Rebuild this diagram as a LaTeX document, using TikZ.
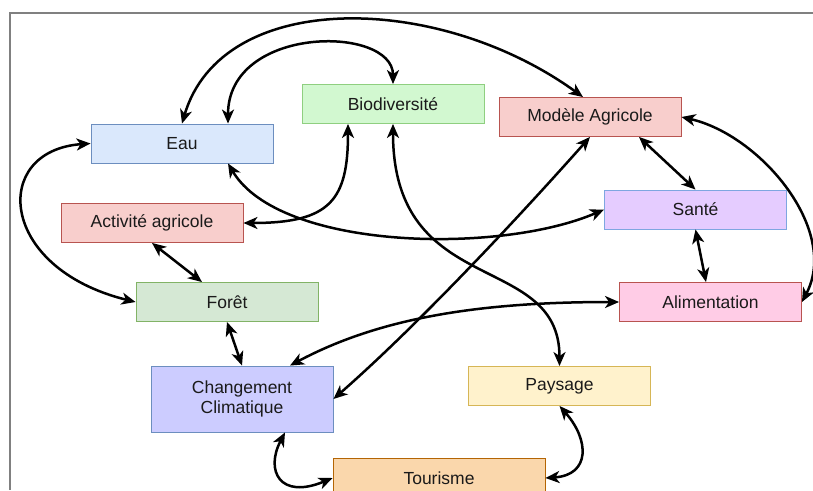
\documentclass[tikz,border=0pt]{standalone}
\usepackage{fontspec}
\setmainfont{Liberation Sans}
\usetikzlibrary{arrows.meta}

\definecolor{eauFill}{HTML}{DAE8FC}\definecolor{eauLine}{HTML}{6C8EBF}
\definecolor{bioFill}{HTML}{D2F8D0}\definecolor{bioLine}{HTML}{8FCF80}
\definecolor{redFill}{HTML}{F8CECC}\definecolor{redLine}{HTML}{B85450}
\definecolor{foretFill}{HTML}{D5E8D4}\definecolor{foretLine}{HTML}{82B366}
\definecolor{santeFill}{HTML}{E5CCFF}\definecolor{santeLine}{HTML}{7EA6E0}
\definecolor{alimFill}{HTML}{FFCCE6}
\definecolor{climFill}{HTML}{CCCCFF}
\definecolor{paysFill}{HTML}{FFF2CC}\definecolor{paysLine}{HTML}{D6B656}
\definecolor{tourFill}{HTML}{FAD7AC}\definecolor{tourLine}{HTML}{B46504}
\definecolor{txt}{HTML}{1A1A1A}

\tikzstyle{box}=[rectangle, draw, line width=0.9pt, minimum width=182pt, minimum height=39pt, align=center, text=txt, font=\fontsize{17.5}{20}\selectfont]
\tikzstyle{link}=[<->, line width=2.5pt, >={Stealth[length=14pt,width=12pt,inset=4pt]}]

\begin{document}
\begin{tikzpicture}[x=1pt, y=1pt]
            \useasboundingbox (0,0) rectangle (813,-490);
            \draw[gray, line width=2pt] (10,-490) -- (10,-13) -- (813,-13);
            \node[box, fill=eauFill, draw=eauLine] at (182,-143.5) (eau) {Eau};
            \node[box, fill=bioFill, draw=bioLine] at (393,-104) (bio) {Biodiversité};
            \node[box, fill=redFill, draw=redLine] at (590,-117) (modele) {Modèle Agricole};
            \node[box, fill=redFill, draw=redLine] at (152,-223) (activite) {Activité agricole};
            \node[box, fill=santeFill, draw=santeLine] at (695.5,-209.5) (sante) {Santé};
            \node[box, fill=foretFill, draw=foretLine] at (227,-302) (foret) {Forêt};
            \node[box, fill=alimFill, draw=redLine] at (710.5,-302) (alim) {Alimentation};
            \node[box, fill=climFill, draw=eauLine, minimum height=66pt] at (242,-399) (climat) {Changement\\Climatique};
            \node[box, fill=paysFill, draw=paysLine] at (559.5,-386) (paysage) {Paysage};
            \node[box, fill=tourFill, draw=tourLine, minimum width=212pt, minimum height=40pt] at (439,-478) (tourisme) {Tourisme};
            % liens courbes
            \draw[link] (eau.north) .. controls +(40,135) and +(-145,105) .. ([xshift=-7pt]modele.north);
            \draw[link] ([xshift=46pt]eau.north) .. controls +(0,99) and +(0,59) .. (bio.north);
            \draw[link] (eau.west) .. controls +(-100,-7) and +(-138,34) .. (foret.west);
            \draw[link] ([xshift=46pt]eau.south) .. controls +(52,-87) and +(-104,-45) .. (sante.west);
            \draw[link] (activite.east) .. controls +(87,0) and +(0,-76) .. ([xshift=-45pt]bio.south);
            \draw[link] (bio.south) .. controls +(0,-176) and +(0,116) .. (paysage.north);
            \draw[link] (modele.south) .. controls +(-80,-90) and +(80,70) .. (climat.east);
            \draw[link] (modele.east) .. controls +(79,-18) and +(38,72) .. (alim.east);
            \draw[link] (alim.west) .. controls +(-139,0) and +(90,48) .. ([xshift=48pt]climat.north);
            \draw[link] ([xshift=43pt]climat.south) .. controls +(-20,-38) and +(-53,-22) .. (tourisme.west);
            \draw[link] (paysage.south) .. controls +(30,-34) and +(45,3) .. (tourisme.east);
            % liens droits
            \draw (activite.south) edge[link] ([xshift=-25pt]foret.north);
            \draw ([xshift=49pt]modele.south) edge[link] (sante.north);
            \draw (sante.south) edge[link] ([xshift=-4.5pt]alim.north);
            \draw (foret.south) edge[link] (climat.north);
        \end{tikzpicture}
\end{document}
